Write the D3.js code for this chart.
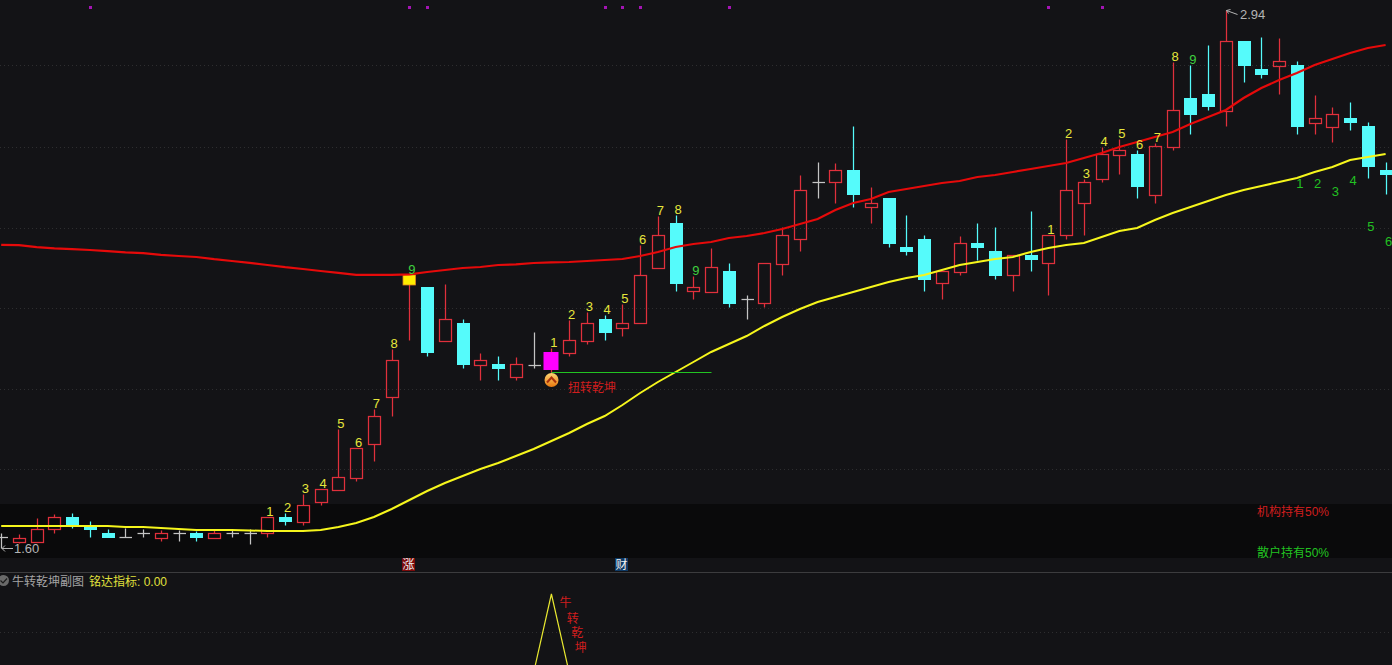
<!DOCTYPE html>
<html>
<head>
<meta charset="utf-8">
<script src="https://cdn.jsdelivr.net/npm/d3@7"></script>
<style>
html,body{margin:0;padding:0;background:#131316;overflow:hidden}
svg{display:block}
text{font-family:"Liberation Sans","Noto Sans CJK SC",sans-serif}
</style>
</head>
<body>
<svg id="chart" width="1392" height="665"></svg>
<script>
const opens=[1.6275,1.61625,1.615,1.6475,1.6775,1.655,1.6375,1.6275,1.6375,1.625,1.6375,1.6375,1.625,1.6375,1.6375,1.6375,1.6775,1.665,1.715,1.745,1.775,1.86,1.9775,2.26,2.2525,2.1175,2.1625,2.0575,2.06,2.0275,2.0575,2.0475,2.0875,2.1175,2.1725,2.15,2.1625,2.30,2.4125,2.2425,2.24,2.2925,2.2225,2.2125,2.31,2.3725,2.515,2.515,2.545,2.4525,2.475,2.3525,2.3725,2.2625,2.29,2.3625,2.3425,2.2825,2.3325,2.3125,2.3825,2.4625,2.5225,2.5825,2.585,2.4825,2.6025,2.725,2.735,2.6925,2.8675,2.7975,2.805,2.8075,2.6625,2.6525,2.675,2.655,2.545];
const highs=[1.6375,1.635,1.675,1.685,1.6875,1.6675,1.6475,1.65,1.6475,1.645,1.645,1.6425,1.645,1.645,1.6475,1.6775,1.6875,1.735,1.7475,1.8975,1.85,1.9475,2.0975,2.2825,2.2525,2.26,2.1725,2.0875,2.08,2.0775,2.14,2.1,2.17,2.19,2.1825,2.21,2.3575,2.43,2.4325,2.28,2.35,2.3125,2.2325,2.3125,2.4025,2.5325,2.565,2.5625,2.655,2.5025,2.475,2.4325,2.3825,2.2925,2.38,2.4125,2.4025,2.3325,2.4425,2.3825,2.6225,2.5225,2.6025,2.6225,2.595,2.6125,2.815,2.8075,2.8575,2.945,2.8675,2.8775,2.875,2.8175,2.7325,2.7025,2.715,2.665,2.565];
const lows=[1.60,1.6125,1.615,1.6375,1.65,1.6275,1.6275,1.6275,1.6275,1.6175,1.6175,1.6175,1.625,1.6275,1.61,1.6275,1.6575,1.6575,1.7075,1.745,1.7675,1.8175,1.93,2.12,2.08,2.1175,2.05,2.02,2.02,2.02,2.05,2.0375,2.08,2.11,2.12,2.13,2.1625,2.30,2.2425,2.2225,2.24,2.2025,2.1725,2.2025,2.2825,2.3425,2.475,2.4625,2.4525,2.4125,2.3525,2.3325,2.2425,2.2225,2.2825,2.32,2.2725,2.2425,2.2925,2.2325,2.3725,2.3825,2.515,2.535,2.475,2.4625,2.595,2.635,2.695,2.655,2.765,2.775,2.735,2.635,2.635,2.615,2.645,2.525,2.485];
const closes=[1.6275,1.62625,1.6475,1.6775,1.66,1.6475,1.6275,1.6275,1.6375,1.6375,1.6375,1.6275,1.6375,1.6375,1.6375,1.6775,1.6675,1.7075,1.7475,1.7775,1.85,1.93,2.07,2.2825,2.09,2.1725,2.06,2.07,2.05,2.06,2.0575,2.09,2.12,2.1625,2.14,2.1625,2.2825,2.3825,2.2625,2.2525,2.3025,2.2125,2.2225,2.3125,2.3825,2.495,2.515,2.545,2.485,2.4625,2.3625,2.3425,2.2725,2.2925,2.3625,2.3525,2.2825,2.3325,2.3225,2.3825,2.495,2.515,2.585,2.595,2.505,2.605,2.695,2.685,2.705,2.8675,2.8075,2.785,2.8175,2.655,2.675,2.685,2.665,2.555,2.535];
const maRed=[2.358,2.357,2.352,2.349,2.347,2.345,2.342,2.339,2.337,2.333,2.33,2.3275,2.322,2.3175,2.313,2.3075,2.302,2.2975,2.2925,2.288,2.283,2.283,2.283,2.284,2.29,2.295,2.30,2.3025,2.3075,2.309,2.3125,2.314,2.315,2.3175,2.32,2.3225,2.33,2.34,2.3525,2.36,2.365,2.375,2.38,2.3875,2.3975,2.41,2.4225,2.445,2.4625,2.4725,2.49,2.4975,2.505,2.5125,2.5175,2.5275,2.5325,2.54,2.5475,2.555,2.5625,2.575,2.5875,2.6025,2.615,2.6275,2.64,2.66,2.6775,2.695,2.725,2.75,2.77,2.7875,2.8075,2.8225,2.8375,2.85,2.8575];
const maYellow=[1.655,1.655,1.655,1.655,1.655,1.655,1.655,1.6525,1.6525,1.65,1.6475,1.645,1.645,1.645,1.64375,1.6425,1.6425,1.6425,1.645,1.6525,1.6625,1.6775,1.6975,1.72,1.7425,1.7625,1.78,1.7975,1.8125,1.83,1.8475,1.8675,1.8875,1.91,1.93,1.9575,1.9875,2.015,2.04,2.065,2.09,2.11,2.13,2.155,2.1775,2.1975,2.215,2.2275,2.24,2.2525,2.265,2.275,2.2825,2.295,2.3075,2.315,2.3225,2.3275,2.34,2.35,2.3575,2.3625,2.3775,2.3925,2.40,2.42,2.4375,2.4525,2.4675,2.4825,2.495,2.505,2.515,2.525,2.54,2.5525,2.57,2.5775,2.585];
const gridValues=[2.8075,2.6025,2.4,2.2,1.9975,1.7975];
const topDots=[5,23,24,34,35,36,41,59,62];
const seqStarts=[15,31,59];
const seqLabels=["1","2","3","4","5","6","7","8","9"];
const tailIndex=[73,74,75,76,77,78];
const tailLabels=["1","2","3","4","5","6"];
const tailValues=[2.5125,2.5125,2.4925,2.52,2.405,2.3675];
const subIndex=[30,31,32];
const subValues=[0,100,0];
const subChars=["牛","转","乾","坤"];
const subCharIndex=[31.8,32.2,32.45,32.65];
const subCharValues=[90,70,51,32];
const lowLabel="1.60", highLabel="2.94", lowIdx=0, highIdx=69;
const magentaBars=[31], yellowBars=[23];
const signalStart=31, signalEnd=40, signalValue=2.04;

const svg=d3.select("#chart");
const BG="#131316", RED="#e0303c", CYAN="#55fbfb", WHITE="#c4c4c4";
const x=d3.scaleLinear().domain([0,78]).range([1.2,1385.6]);
const y=d3.scaleLinear().domain([1.6,2.945]).range([548,10]);
const ySub=d3.scaleLinear().domain([0,100]).range([672.5,594]);
const px=i=>Math.round(x(i))+0.5;
const py=v=>Math.round(y(v))+0.5;

svg.append("rect").attr("width",1392).attr("height",665).attr("fill",BG);
svg.append("rect").attr("x",0).attr("y",504).attr("width",1392).attr("height",54).attr("fill","#0a0a0b");
svg.append("line").attr("x1",0).attr("x2",1392).attr("y1",572.5).attr("y2",572.5).attr("stroke","#3c3c3e");

const gridG=svg.append("g").attr("stroke","#2e2e30").attr("stroke-dasharray","1,3");
gridG.selectAll("line").data(gridValues).join("line")
  .attr("x1",0).attr("x2",1392).attr("y1",d=>py(d)).attr("y2",d=>py(d));
gridG.append("line").attr("x1",0).attr("x2",1392).attr("y1",632.5).attr("y2",632.5);

svg.append("g").selectAll("rect").data(topDots).join("rect")
  .attr("x",d=>Math.round(x(d))-1).attr("y",6).attr("width",3).attr("height",3).attr("fill","#a414b4");

// candles
const idx=d3.range(opens.length);
const G=svg.append("g").attr("stroke-width",1.25);
idx.forEach(i=>{
  const cx=px(i), o=opens[i], c=closes[i];
  const top=py(Math.max(o,c)), bot=py(Math.min(o,c)), hi=py(highs[i]), lo=py(lows[i]);
  const doji=o===c, up=c>o;
  const col=doji?WHITE:(up?RED:CYAN);
  if(doji){
    G.append("line").attr("x1",cx).attr("x2",cx).attr("y1",hi).attr("y2",lo).attr("stroke",col);
    G.append("line").attr("x1",cx-6).attr("x2",cx+6.5).attr("y1",top).attr("y2",top).attr("stroke",col);
    return;
  }
  if(hi<top) G.append("line").attr("x1",cx).attr("x2",cx).attr("y1",hi).attr("y2",top).attr("stroke",col);
  if(lo>bot) G.append("line").attr("x1",cx).attr("x2",cx).attr("y1",bot).attr("y2",lo).attr("stroke",col);
  if(magentaBars.includes(i)){
    G.append("rect").attr("x",cx-8).attr("y",top-.5).attr("width",15).attr("height",bot-top+1).attr("fill","#ff00ff");
  }else if(yellowBars.includes(i)){
    G.append("rect").attr("x",cx-6.5).attr("y",top-.5).attr("width",12.5).attr("height",bot-top+1)
      .attr("fill","#ffee00").attr("stroke","#e08020").attr("stroke-width",.8);
  }else if(up){
    G.append("rect").attr("x",cx-6).attr("y",top).attr("width",12).attr("height",bot-top)
      .attr("fill","none").attr("stroke",col);
  }else{
    G.append("rect").attr("x",cx-6.5).attr("y",top-.5).attr("width",13).attr("height",bot-top+1).attr("fill",col);
  }
});

// moving averages
const line=d3.line().x((d,i)=>x(i)).y(d=>y(d));
svg.append("path").attr("d",line(maRed)).attr("fill","none").attr("stroke","#e60a0a").attr("stroke-width",2.2);
svg.append("path").attr("d",line(maYellow)).attr("fill","none").attr("stroke","#f6f61c").attr("stroke-width",2);

// signal line and icon
svg.append("line").attr("x1",px(signalStart)).attr("x2",px(signalEnd)).attr("y1",py(signalValue)).attr("y2",py(signalValue))
  .attr("stroke","#22c422");
const defs=svg.append("defs");
const grad=defs.append("linearGradient").attr("id","ico").attr("x1",0).attr("x2",0).attr("y1",0).attr("y2",1);
grad.append("stop").attr("offset",0).attr("stop-color","#ffd774");
grad.append("stop").attr("offset",1).attr("stop-color","#e8780e");
const icoX=px(signalStart), icoY=380;
svg.append("circle").attr("cx",icoX).attr("cy",icoY).attr("r",7).attr("fill","url(#ico)");
svg.append("path").attr("d",`M${icoX-4.5},${icoY+2.5}L${icoX},${icoY-2.5}L${icoX+4.5},${icoY+2.5}`)
  .attr("fill","none").attr("stroke","#a8300c").attr("stroke-width",2);
svg.append("text").attr("x",568).attr("y",392).attr("font-size",12).attr("fill","#d01e1e").text("扭转乾坤");

// sequence numbers
const seq=svg.append("g").attr("font-size",13).attr("text-anchor","middle");
seqStarts.forEach(s=>seqLabels.forEach((t,k)=>{
  const i=s+k;
  seq.append("text").attr("x",x(i)+2.5).attr("y",y(highs[i])-1)
    .attr("fill",t==="9"?"#3fd03f":"#e6e63c").text(t);
}));
tailIndex.forEach((i,k)=>{
  seq.append("text").attr("x",x(i)+3).attr("y",y(tailValues[k])+4.5).attr("fill","#22c022").text(tailLabels[k]);
});

// high / low markers
const note=svg.append("g").attr("fill","none").attr("stroke","#b4b4b4");
note.append("path").attr("d",`M2,${py(lows[lowIdx])}H13M2,${py(lows[lowIdx])}l3,-3M2,${py(lows[lowIdx])}l3,3`);
note.append("path").attr("d",`M${px(highIdx)},${py(highs[highIdx])}L${px(highIdx)+11},${py(highs[highIdx])+4}M${px(highIdx)},${py(highs[highIdx])}l4,-1M${px(highIdx)},${py(highs[highIdx])}l2,3`);
svg.append("text").attr("x",14).attr("y",553).attr("font-size",13).attr("fill","#b4b4b4").text(lowLabel);
svg.append("text").attr("x",1240).attr("y",19).attr("font-size",13).attr("fill","#b4b4b4").text(highLabel);

// holdings
svg.append("text").attr("x",1257).attr("y",516).attr("font-size",12).attr("fill","#d01e1e").text("机构持有50%");
svg.append("text").attr("x",1257).attr("y",557).attr("font-size",12).attr("fill","#22c422").text("散户持有50%");

// badges
[[402,"#7c0a0a","涨"],[615,"#0e3a66","财"]].forEach(b=>{
  svg.append("rect").attr("x",b[0]).attr("y",558).attr("width",13).attr("height",13).attr("fill",b[1]);
  svg.append("text").attr("x",b[0]+6.5).attr("y",569).attr("text-anchor","middle").attr("font-size",12).attr("fill","#f0f0f0").text(b[2]);
});

// sub chart
svg.append("circle").attr("cx",3.5).attr("cy",580.5).attr("r",5.5).attr("fill","#6a6a6a");
svg.append("path").attr("d","M0.5,580.5l2.5,2.5l4,-4.5").attr("fill","none").attr("stroke","#1c1c1c").attr("stroke-width",1.2);
svg.append("text").attr("x",12).attr("y",585.5).attr("font-size",12).attr("fill","#a4a4a4").text("牛转乾坤副图");
svg.append("text").attr("x",89).attr("y",585.5).attr("font-size",12).attr("fill","#e0e03c").text("铭达指标: 0.00");
const subLine=d3.line().x(d=>x(d[0])).y(d=>ySub(d[1]));
svg.append("path").attr("d",subLine(subIndex.map((d,k)=>[d,subValues[k]]))).attr("fill","none").attr("stroke","#e8e830").attr("stroke-width",1.2);
svg.append("g").attr("font-size",12).attr("fill","#d01e1e").attr("text-anchor","middle")
  .selectAll("text").data(subChars).join("text")
  .attr("x",(d,k)=>x(subCharIndex[k])).attr("y",(d,k)=>ySub(subCharValues[k])+5).text(d=>d);
</script>
</body>
</html>
